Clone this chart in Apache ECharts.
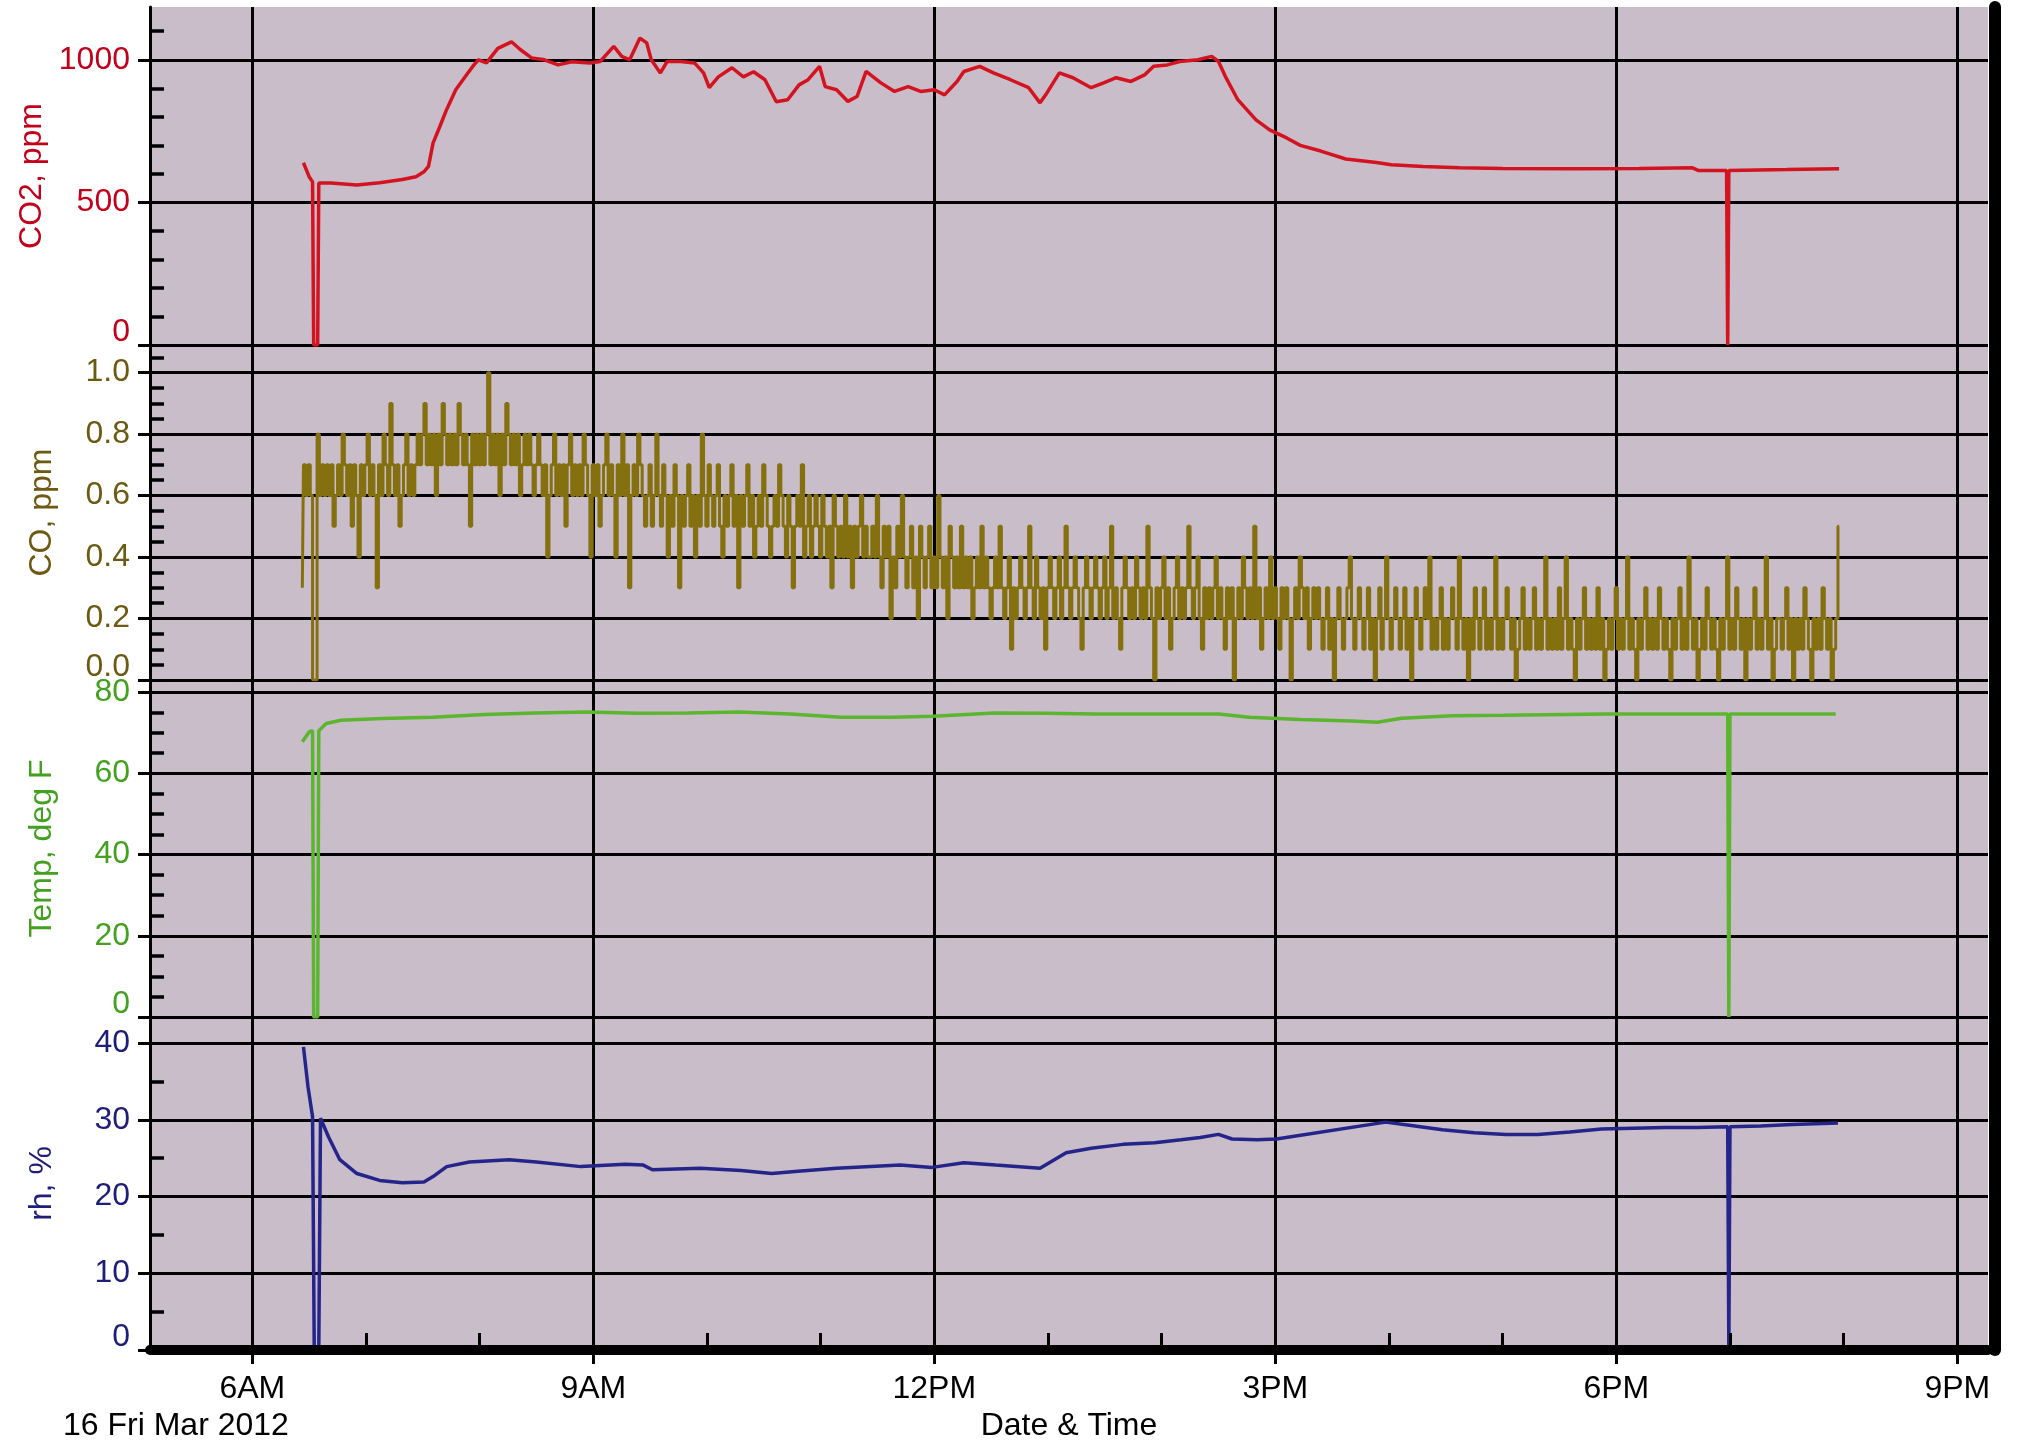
<!DOCTYPE html>
<html>
<head>
<meta charset="utf-8">
<title>Air quality log 16 Mar 2012</title>
<script src="https://cdn.jsdelivr.net/npm/echarts@6/dist/echarts.min.js"></script>
<style>
  html, body { margin: 0; padding: 0; background: #fff; }
  #air_log { width: 2017px; height: 1444px; }
</style>
</head>
<body>
<div id="air_log"></div>
<script>
// time is decimal hour of the day (16 Fri Mar 2012)
const co2Hours = [6.45, 6.50, 6.53, 6.54, 6.575, 6.585, 6.69, 6.92, 7.12, 7.32, 7.44, 7.51, 7.55, 7.59, 7.65, 7.71, 7.79, 7.89, 7.95, 7.99,
  8.06, 8.16, 8.28, 8.36, 8.46, 8.57, 8.69, 8.81, 8.97, 9.06, 9.18, 9.25, 9.32, 9.41, 9.47, 9.51, 9.59, 9.65, 9.77, 9.89,
  9.97, 10.02, 10.10, 10.22, 10.32, 10.41, 10.51, 10.61, 10.71, 10.81, 10.89, 10.99, 11.04, 11.14, 11.24, 11.32, 11.40, 11.53, 11.65, 11.77,
  11.88, 12.00, 12.09, 12.20, 12.26, 12.40, 12.52, 12.67, 12.83, 12.93, 12.98, 13.10, 13.22, 13.38, 13.49, 13.60, 13.73, 13.85, 13.93, 14.05,
  14.16, 14.32, 14.44, 14.50, 14.56, 14.67, 14.83, 14.95, 15.10, 15.22, 15.40, 15.62, 15.89, 16.02, 16.30, 16.62, 17.00, 17.63, 18.20, 18.67,
  18.72, 18.97, 18.98, 18.99, 19.50, 19.96];
const co2Ppm = [639, 590, 572, 0, 0, 568, 568, 561, 569, 580, 590, 607, 626, 708, 766, 826, 895, 950, 982, 1000,
  989, 1040, 1063, 1035, 1006, 1000, 982, 993, 989, 994, 1047, 1012, 1000, 1076, 1059, 1000, 954, 994, 994, 989,
  954, 902, 940, 972, 940, 958, 930, 853, 860, 912, 930, 977, 906, 895, 854, 871, 959, 919, 889, 906,
  889, 895, 877, 924, 959, 977, 954, 930, 902, 849, 877, 954, 937, 902, 919, 937, 924, 947, 977, 982,
  994, 1000, 1012, 994, 942, 860, 789, 754, 726, 700, 680, 652, 640, 632, 626, 621, 619, 618, 619, 621,
  612, 612, 0, 612, 615, 618];

const tempHours = [6.44, 6.50, 6.53, 6.54, 6.575, 6.585, 6.65, 6.78, 7.14, 7.59, 8.04, 8.49, 8.94, 9.39, 9.83, 10.28, 10.73, 11.18, 11.63, 11.99,
  12.53, 12.97, 13.42, 13.87, 14.50, 14.77, 15.22, 15.67, 15.90, 16.11, 16.56, 17.01, 17.92, 18.98, 18.99, 19.00, 19.93];
const tempF = [67.8, 70.2, 70.5, 0, 0, 70.5, 72.3, 73.1, 73.5, 73.8, 74.5, 74.9, 75.1, 74.8, 74.9, 75.1, 74.6, 73.8, 73.8, 74.1,
  74.9, 74.8, 74.6, 74.6, 74.6, 73.8, 73.3, 72.9, 72.6, 73.6, 74.2, 74.3, 74.6, 74.6, 0, 74.6, 74.6];

const rhHours = [6.45, 6.49, 6.53, 6.545, 6.585, 6.60, 6.61, 6.67, 6.77, 6.92, 7.12, 7.32, 7.51, 7.59, 7.71, 7.91, 8.26, 8.50, 8.89, 9.28,
  9.44, 9.52, 9.94, 10.30, 10.57, 10.80, 11.14, 11.70, 11.98, 12.26, 12.54, 12.93, 13.16, 13.38, 13.66, 13.94, 14.17, 14.34, 14.50, 14.62,
  14.84, 15.01, 15.97, 16.18, 16.47, 16.75, 17.03, 17.31, 17.59, 17.87, 18.15, 18.43, 18.71, 18.98, 18.99, 19.00, 19.27, 19.55, 19.95];
const rhPct = [39.5, 34.3, 30.4, 0, 0, 30.2, 30.0, 27.8, 24.8, 23.0, 22.1, 21.8, 21.9, 22.6, 23.9, 24.5, 24.8, 24.5, 23.9, 24.2,
  24.1, 23.5, 23.7, 23.4, 23.0, 23.3, 23.7, 24.1, 23.8, 24.4, 24.1, 23.7, 25.7, 26.3, 26.8, 27.0, 27.4, 27.7, 28.1, 27.5,
  27.4, 27.5, 29.7, 29.3, 28.7, 28.3, 28.1, 28.1, 28.4, 28.8, 28.9, 29.0, 29.0, 29.1, 0, 29.1, 29.2, 29.4, 29.6];

// CO logged every 1.2 min starting 6.44 h, in tenths of ppm (50 readings = one hour)
const coStartHour = 6.44;
const coStepHour = 0.02;
const coTenths = [
  3, 7, 6, 7, 6, 0, 0, 8, 6, 7, 6, 7, 6, 7, 5, 6, 7, 6, 8, 7, 6, 7, 5, 7, 6, 4, 7, 6, 7, 8, 6, 7, 6, 3, 7, 6, 8, 7, 6, 9, 7, 6, 7, 5, 6, 7, 8, 6, 7, 6,
  7, 8, 7, 8, 9, 7, 8, 7, 8, 6, 8, 7, 9, 8, 7, 8, 7, 8, 7, 9, 8, 7, 8, 7, 5, 8, 7, 8, 7, 8, 7, 8, 10, 7, 8, 7, 8, 6, 8, 7, 9, 8, 7, 8, 7, 8, 6, 7, 8, 7,
  8, 7, 6, 7, 8, 7, 6, 7, 4, 6, 7, 8, 6, 7, 6, 7, 5, 7, 8, 6, 7, 6, 7, 6, 8, 7, 6, 4, 7, 6, 7, 5, 6, 7, 8, 6, 7, 6, 4, 7, 6, 8, 6, 7, 3, 6, 7, 6, 8, 7,
  6, 5, 6, 7, 5, 6, 8, 6, 5, 7, 6, 4, 6, 5, 7, 6, 3, 6, 5, 6, 7, 5, 6, 4, 6, 5, 8, 6, 5, 7, 6, 5, 6, 7, 5, 4, 6, 5, 6, 7, 5, 6, 3, 6, 5, 6, 7, 5, 6, 4,
  5, 6, 5, 7, 6, 5, 4, 5, 6, 5, 7, 6, 5, 4, 6, 5, 3, 5, 6, 5, 7, 4, 5, 6, 4, 5, 6, 5, 4, 6, 5, 4, 5, 3, 6, 5, 4, 5, 4, 6, 4, 5, 3, 5, 4, 5, 6, 4, 5, 4,
  4, 5, 4, 6, 4, 3, 5, 4, 5, 2, 4, 3, 5, 4, 6, 4, 3, 4, 5, 3, 4, 2, 5, 4, 3, 4, 5, 3, 4, 3, 6, 4, 3, 4, 2, 5, 4, 3, 4, 3, 5, 3, 4, 3, 4, 2, 3, 4, 3, 5,
  3, 4, 3, 2, 3, 4, 3, 5, 3, 2, 3, 4, 1, 3, 2, 3, 4, 3, 2, 3, 5, 3, 2, 4, 3, 2, 3, 1, 3, 4, 3, 2, 3, 4, 2, 3, 5, 3, 2, 3, 4, 3, 2, 1, 3, 4, 3, 2, 3, 4,
  3, 2, 3, 4, 2, 3, 5, 2, 3, 2, 1, 3, 4, 3, 2, 3, 2, 4, 3, 2, 3, 2, 5, 3, 2, 0, 3, 2, 3, 4, 2, 3, 1, 2, 3, 4, 2, 3, 2, 3, 5, 3, 2, 3, 4, 2, 1, 3, 2, 3,
  2, 3, 4, 2, 3, 2, 1, 3, 2, 3, 0, 2, 3, 2, 4, 3, 2, 3, 2, 5, 2, 3, 1, 2, 3, 2, 4, 2, 3, 2, 1, 3, 2, 3, 2, 0, 2, 3, 2, 4, 3, 2, 3, 1, 2, 3, 2, 3, 2, 1,
  2, 3, 1, 2, 0, 2, 3, 2, 1, 2, 3, 4, 2, 1, 2, 3, 2, 1, 2, 3, 1, 2, 0, 2, 3, 1, 2, 4, 2, 1, 2, 3, 2, 1, 2, 3, 1, 2, 0, 2, 3, 2, 1, 2, 3, 2, 4, 1, 2, 1,
  2, 3, 1, 2, 1, 2, 3, 2, 1, 4, 2, 1, 2, 0, 2, 1, 3, 2, 1, 2, 3, 1, 2, 1, 2, 4, 1, 2, 1, 2, 3, 2, 1, 2, 0, 1, 2, 3, 1, 2, 1, 2, 3, 1, 2, 1, 2, 4, 1, 2,
  1, 2, 1, 3, 1, 2, 4, 1, 2, 1, 0, 2, 1, 2, 3, 1, 2, 1, 2, 1, 3, 1, 2, 0, 1, 2, 1, 2, 3, 1, 2, 1, 2, 4, 1, 2, 1, 0, 2, 1, 2, 3, 1, 2, 1, 2, 1, 3, 2, 1,
  2, 1, 0, 2, 1, 2, 3, 1, 2, 1, 4, 2, 1, 2, 0, 1, 2, 1, 3, 2, 1, 2, 1, 0, 2, 1, 2, 4, 1, 2, 1, 3, 2, 1, 2, 0, 2, 1, 2, 3, 1, 2, 1, 2, 4, 1, 2, 0, 1, 2,
  2, 1, 2, 3, 1, 2, 0, 2, 1, 2, 1, 3, 2, 1, 0, 2, 1, 2, 1, 3, 2, 1, 2, 0, 1, 2, 5
];

const tickHours = [6, 9, 12, 15, 18, 21];
const tickLabels = ["6AM", "9AM", "12PM", "3PM", "6PM", "9PM"];
const hourMarks = [6, 7, 8, 9, 10, 11, 12, 13, 14, 15, 16, 17, 18, 19, 20, 21];

const co2Major = [0, 500, 1000];
const co2Minor = [100, 200, 300, 400, 600, 700, 800, 900, 1100];
const coMajor = [0, 0.2, 0.4, 0.6, 0.8, 1.0];
const coMinor = [0.05, 0.1, 0.15, 0.25, 0.3, 0.35, 0.45, 0.5, 0.55, 0.65, 0.7, 0.75, 0.85, 0.9, 0.95, 1.05];
const tempMajor = [0, 20, 40, 60, 80];
const tempMinor = [5, 10, 15, 25, 30, 35, 45, 50, 55, 65, 70, 75];
const rhMajor = [0, 10, 20, 30, 40];
const rhMinor = [5, 15, 25, 35];

const FONT = "Liberation Sans, Arial, sans-serif";
const X_MIN = 5.1;
const X_MAX = 21.27;

const co2Data = co2Hours.map((h, i) => [h, co2Ppm[i]]);
const tempData = tempHours.map((h, i) => [h, tempF[i]]);
const rhData = rhHours.map((h, i) => [h, rhPct[i]]);
const coData = coTenths.map((v, i) => [+(coStartHour + i * coStepHour).toFixed(2), v / 10]);

const panels = [
  { name: "CO2, ppm", color: "#c2001c", max: 1185, step: 500, major: co2Major, minor: co2Minor, digits: 0, top: 7, height: 338 },
  { name: "CO, ppm", color: "#6c5912", max: 1.09, step: 0.2, major: coMajor, minor: coMinor, digits: 1, top: 345, height: 335 },
  { name: "Temp, deg F", color: "#43a020", max: 83, step: 20, major: tempMajor, minor: tempMinor, digits: 0, top: 680, height: 337 },
  { name: "rh, %", color: "#1e1e78", max: 43.4, step: 10, major: rhMajor, minor: rhMinor, digits: 0, top: 1017, height: 333 },
];

const chart = echarts.init(document.getElementById("air_log"));

const black = (w) => ({ color: "#000", width: w });
const off = { show: false };

const grid = [
  { left: 150, right: 29, top: 7, height: 1343, show: true, backgroundColor: "#c9bdc9", borderWidth: 0 },
].concat(panels.map((p) => ({ left: 150, right: 29, top: p.top, height: p.height })));

const xAxis = [
  // frame: top border and the thick bottom bar with hourly ticks
  { gridIndex: 0, type: "value", position: "top", min: 0, max: 1, z: 5,
    axisLine: { show: true, lineStyle: black(3) }, axisTick: off, axisLabel: off, splitLine: off },
  { gridIndex: 0, type: "value", position: "bottom", min: X_MIN, max: X_MAX, offset: 5, z: 5,
    axisLine: { show: true, lineStyle: black(10) },
    axisTick: { show: true, inside: true, length: 17, customValues: hourMarks, lineStyle: black(3) },
    axisLabel: off, splitLine: off },
].concat(panels.map((p, i) => {
  const last = i === panels.length - 1;
  return {
    gridIndex: i + 1, type: "value", position: "bottom", min: X_MIN, max: X_MAX,
    axisLine: off,
    axisTick: { show: last, length: 14, customValues: tickHours, lineStyle: black(3) },
    axisLabel: last ? {
      show: true, customValues: tickHours, margin: 23, color: "#000", fontSize: 32, fontFamily: FONT,
      formatter: (v) => tickLabels[tickHours.indexOf(v)],
    } : off,
    splitLine: { show: true, lineStyle: black(3) },
    name: last ? "Date & Time" : "",
    nameLocation: "middle",
    nameGap: 60,
    nameTextStyle: { color: "#000", fontSize: 32, fontFamily: FONT },
  };
}));

const yAxis = [
  { gridIndex: 0, type: "value", position: "left", min: 0, max: 1, z: 5,
    axisLine: { show: true, lineStyle: black(3) }, axisTick: off, axisLabel: off, splitLine: off },
  { gridIndex: 0, type: "value", position: "right", min: 0, max: 1, offset: 7, z: 5,
    axisLine: { show: true, lineStyle: black(12) }, axisTick: off, axisLabel: off, splitLine: off },
];
panels.forEach((p, i) => {
  yAxis.push({
    gridIndex: i + 1, type: "value", position: "left", min: 0, max: p.max, interval: p.step,
    axisLine: off,
    axisTick: { show: true, length: 12, customValues: p.major, lineStyle: black(3) },
    axisLabel: {
      show: true, customValues: p.major, margin: 20,
      color: p.color, fontSize: 32, fontFamily: FONT,
      formatter: (v) => {
        const s = v.toFixed(p.digits);
        return v === 0 ? "{low|" + s + "}" : s;
      },
      rich: { low: { padding: [0, 0, 26, 0], color: p.color, fontSize: 32, fontFamily: FONT } },
    },
    splitLine: { show: true, lineStyle: black(3) },
    name: p.name,
    nameLocation: "middle",
    nameGap: 92,
    nameTextStyle: { color: p.color, fontSize: 32, fontFamily: FONT },
  });
  // small inside ticks between the labelled ones
  yAxis.push({
    gridIndex: i + 1, type: "value", position: "left", min: 0, max: p.max,
    axisLine: off,
    axisTick: { show: true, inside: true, length: 14, customValues: p.minor, lineStyle: black(3.5) },
    axisLabel: off, splitLine: off,
  });
});

const option = {
  animation: false,
  backgroundColor: "#fff",
  title: {
    text: "16 Fri Mar 2012",
    left: 58,
    top: 1405,
    textStyle: { color: "#000", fontSize: 32, fontWeight: "normal", fontFamily: FONT },
  },
  grid: grid,
  xAxis: xAxis,
  yAxis: yAxis,
  series: [
    {
      name: "CO2", type: "line", xAxisIndex: 2, yAxisIndex: 2, data: co2Data,
      showSymbol: false, lineStyle: { color: "#d3131f", width: 3.5 }, z: 3,
    },
    {
      name: "CO", type: "line", xAxisIndex: 3, yAxisIndex: 4, data: coData, step: "middle",
      showSymbol: false, lineStyle: { color: "#85700f", width: 3 }, z: 3,
    },
    {
      name: "Temp", type: "line", xAxisIndex: 4, yAxisIndex: 6, data: tempData,
      showSymbol: false, lineStyle: { color: "#5cb52e", width: 3.5 }, z: 3,
    },
    {
      name: "rh", type: "line", xAxisIndex: 5, yAxisIndex: 8, data: rhData,
      showSymbol: false, lineStyle: { color: "#24248a", width: 3.5 }, z: 3,
    },
  ],
};

chart.setOption(option);
</script>
</body>
</html>
